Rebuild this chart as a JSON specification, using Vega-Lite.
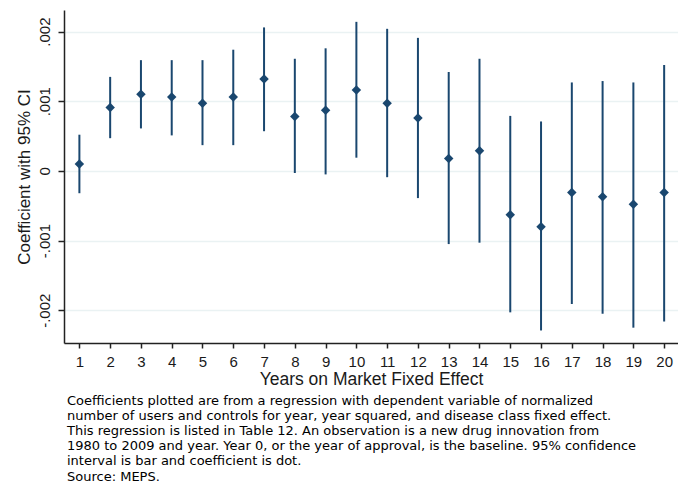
{
  "$schema": "https://vega.github.io/schema/vega-lite/v6.json",
  "autosize": {"type": "none"},
  "width": 614,
  "height": 333,
  "padding": {"left": 64, "top": 10, "right": 0, "bottom": 139},
  "background": "white",
  "config": {"view": {"stroke": null}, "font": "Liberation Sans"},
  "title": {
    "text": [
      "Coefficients plotted are from a regression with dependent variable of normalized",
      "number of users and controls for year, year squared, and disease class fixed effect.",
      "This regression is listed in Table 12.  An observation is a new drug innovation from",
      "1980 to 2009 and year. Year 0, or the year of approval, is the baseline. 95% confidence",
      "interval is bar and coefficient is dot.",
      "Source: MEPS."
    ],
    "orient": "bottom",
    "anchor": "start",
    "frame": "group",
    "align": "left",
    "baseline": "top",
    "font": "DejaVu Sans",
    "fontSize": 13,
    "fontWeight": "normal",
    "color": "#000000",
    "lineHeight": 15.2,
    "offset": 7,
    "dx": 3
  },
  "data": {
    "values": [
      {"year": 1, "coef": 0.0001, "lo": -0.00032, "hi": 0.00052},
      {"year": 2, "coef": 0.00091, "lo": 0.00047, "hi": 0.00135},
      {"year": 3, "coef": 0.0011, "lo": 0.00061, "hi": 0.00159},
      {"year": 4, "coef": 0.00106, "lo": 0.00051, "hi": 0.00159},
      {"year": 5, "coef": 0.00097, "lo": 0.00037, "hi": 0.00159},
      {"year": 6, "coef": 0.00106, "lo": 0.00037, "hi": 0.00174},
      {"year": 7, "coef": 0.00132, "lo": 0.00057, "hi": 0.00206},
      {"year": 8, "coef": 0.00078, "lo": -0.00003, "hi": 0.00161},
      {"year": 9, "coef": 0.00087, "lo": -0.00005, "hi": 0.00176},
      {"year": 10, "coef": 0.00116, "lo": 0.00019, "hi": 0.00214},
      {"year": 11, "coef": 0.00097, "lo": -0.00009, "hi": 0.00204},
      {"year": 12, "coef": 0.00076, "lo": -0.00039, "hi": 0.00191},
      {"year": 13, "coef": 0.00018, "lo": -0.00105, "hi": 0.00142},
      {"year": 14, "coef": 0.00029, "lo": -0.00103, "hi": 0.00161},
      {"year": 15, "coef": -0.00063, "lo": -0.00203, "hi": 0.00079},
      {"year": 16, "coef": -0.0008, "lo": -0.00229, "hi": 0.00071},
      {"year": 17, "coef": -0.00031, "lo": -0.00191, "hi": 0.00127},
      {"year": 18, "coef": -0.00037, "lo": -0.00205, "hi": 0.00129},
      {"year": 19, "coef": -0.00048, "lo": -0.00225, "hi": 0.00127},
      {"year": 20, "coef": -0.00031, "lo": -0.00216, "hi": 0.00152}
    ]
  },
  "encoding": {
    "x": {
      "field": "year",
      "type": "quantitative",
      "scale": {"domain": [0.5, 20.45], "nice": false, "zero": false},
      "axis": {
        "title": "Years on Market Fixed Effect",
        "values": [1, 2, 3, 4, 5, 6, 7, 8, 9, 10, 11, 12, 13, 14, 15, 16, 17, 18, 19, 20],
        "grid": false,
        "domainColor": "#222222",
        "domainWidth": 1.5,
        "tickColor": "#222222",
        "tickSize": 5,
        "tickWidth": 1.5,
        "labelFontSize": 15,
        "labelColor": "#1a1a1a",
        "labelPadding": 6,
        "labelFlush": false,
        "titleFontSize": 17.5,
        "titleFontWeight": "normal",
        "titleColor": "#1a1a1a",
        "titlePadding": 1
      }
    }
  },
  "layer": [
    {
      "mark": {"type": "rule", "color": "#1a476f", "strokeWidth": 2},
      "encoding": {
        "y": {
          "field": "lo",
          "type": "quantitative",
          "scale": {"domain": [-0.00247, 0.00231], "nice": false, "zero": false},
          "axis": {
            "title": "Coefficient with 95% CI",
            "values": [-0.002, -0.001, 0, 0.001, 0.002],
            "labelExpr": "datum.value == 0 ? '0' : (datum.value < 0 ? '-' : '') + '.00' + format(abs(datum.value) * 1000, '.0f')",
            "labelAngle": -90,
            "labelAlign": "center",
            "labelBaseline": "bottom",
            "labelFontSize": 15,
            "labelColor": "#1a1a1a",
            "labelPadding": 6,
            "labelFlush": false,
            "grid": true,
            "gridColor": "#eaf2f3",
            "gridWidth": 1.5,
            "domainColor": "#222222",
            "domainWidth": 1.5,
            "tickColor": "#222222",
            "tickSize": 6,
            "tickWidth": 1.5,
            "titleFontSize": 17,
            "titleFontWeight": "normal",
            "titleColor": "#1a1a1a",
            "titlePadding": 4
          }
        },
        "y2": {"field": "hi"}
      }
    },
    {
      "mark": {"type": "point", "shape": "diamond", "filled": true, "size": 90, "color": "#1a476f", "opacity": 1},
      "encoding": {
        "y": {
          "field": "coef",
          "type": "quantitative",
          "scale": {"domain": [-0.00247, 0.00231], "nice": false, "zero": false},
          "axis": {
            "title": "Coefficient with 95% CI",
            "values": [-0.002, -0.001, 0, 0.001, 0.002],
            "labelExpr": "datum.value == 0 ? '0' : (datum.value < 0 ? '-' : '') + '.00' + format(abs(datum.value) * 1000, '.0f')",
            "labelAngle": -90,
            "labelAlign": "center",
            "labelBaseline": "bottom",
            "labelFontSize": 15,
            "labelColor": "#1a1a1a",
            "labelPadding": 6,
            "labelFlush": false,
            "grid": true,
            "gridColor": "#eaf2f3",
            "gridWidth": 1.5,
            "domainColor": "#222222",
            "domainWidth": 1.5,
            "tickColor": "#222222",
            "tickSize": 6,
            "tickWidth": 1.5,
            "titleFontSize": 17,
            "titleFontWeight": "normal",
            "titleColor": "#1a1a1a",
            "titlePadding": 4
          }
        }
      }
    }
  ]
}
